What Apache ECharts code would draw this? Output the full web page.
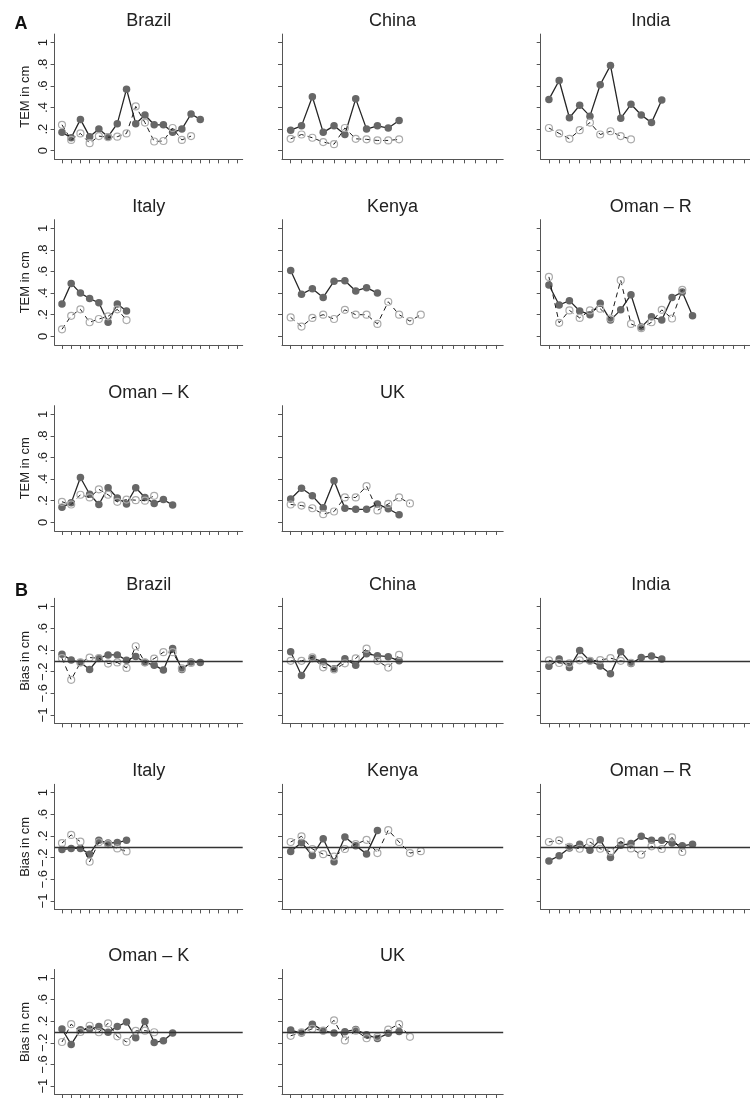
<!DOCTYPE html>
<html><head><meta charset="utf-8">
<script src="https://cdn.jsdelivr.net/npm/echarts@6/dist/echarts.min.js"></script>
<style>html,body{margin:0;padding:0;background:#fff}#c{width:750px;height:1098px}</style>
</head><body><div id="c"></div>
<script>
// ---------- DATA ----------
const countries = ["Brazil", "China", "India", "Italy", "Kenya", "Oman \u2013 R", "Oman \u2013 K", "UK"];
const xTicks = [1,2,3,4,5,6,7,8,9,10,11,12,13,14,15,16,17,18,19,20];
const temTicks = [0, 0.2, 0.4, 0.6, 0.8, 1];
const biasTicks = [-1, -0.6, -0.2, 0.2, 0.6, 1];

// Panel A: TEM in cm  (solid = filled markers, dashed = hollow markers)
const temSolid_Brazil = [0.17, 0.12, 0.29, 0.13, 0.20, 0.13, 0.25, 0.57, 0.25, 0.33, 0.24, 0.24, 0.17, 0.20, 0.34, 0.29];
const temDash_Brazil  = [0.24, 0.10, 0.16, 0.07, 0.135, 0.125, 0.13, 0.16, 0.41, 0.26, 0.085, 0.09, 0.21, 0.10, 0.135];
const temSolid_China  = [0.19, 0.23, 0.50, 0.17, 0.23, 0.15, 0.48, 0.20, 0.23, 0.21, 0.28];
const temDash_China   = [0.11, 0.15, 0.12, 0.08, 0.06, 0.21, 0.11, 0.105, 0.095, 0.095, 0.105];
const temSolid_India  = [0.475, 0.65, 0.305, 0.42, 0.32, 0.61, 0.79, 0.30, 0.43, 0.33, 0.26, 0.47];
const temDash_India   = [0.21, 0.16, 0.11, 0.19, 0.26, 0.15, 0.18, 0.135, 0.105];
const temSolid_Italy  = [0.30, 0.49, 0.40, 0.35, 0.31, 0.13, 0.30, 0.235];
const temDash_Italy   = [0.065, 0.19, 0.25, 0.13, 0.16, 0.185, 0.25, 0.15];
const temSolid_Kenya  = [0.61, 0.39, 0.44, 0.36, 0.51, 0.515, 0.42, 0.45, 0.40];
const temDash_Kenya   = [0.175, 0.09, 0.17, 0.20, 0.16, 0.245, 0.20, 0.20, 0.115, 0.32, 0.20, 0.14, 0.20];
const temSolid_OmanR  = [0.475, 0.29, 0.33, 0.235, 0.20, 0.305, 0.15, 0.245, 0.385, 0.085, 0.18, 0.15, 0.36, 0.41, 0.19];
const temDash_OmanR   = [0.55, 0.125, 0.24, 0.17, 0.24, 0.255, 0.165, 0.52, 0.115, 0.075, 0.13, 0.245, 0.165, 0.43];
const temSolid_OmanK  = [0.14, 0.18, 0.415, 0.26, 0.165, 0.32, 0.225, 0.17, 0.32, 0.23, 0.175, 0.21, 0.16];
const temDash_OmanK   = [0.19, 0.165, 0.255, 0.23, 0.305, 0.255, 0.19, 0.21, 0.205, 0.20, 0.245];
const temSolid_UK     = [0.215, 0.315, 0.245, 0.135, 0.385, 0.13, 0.12, 0.12, 0.17, 0.125, 0.07];
const temDash_UK      = [0.165, 0.155, 0.13, 0.075, 0.10, 0.23, 0.23, 0.335, 0.11, 0.17, 0.23, 0.175];

// Panel B: Bias in cm
const biasSolid_Brazil = [0.12, 0.015, -0.03, -0.16, 0.05, 0.11, 0.11, 0.01, 0.08, -0.03, -0.08, -0.17, 0.23, -0.16, -0.02, -0.03];
const biasDash_Brazil  = [0.05, -0.35, -0.03, 0.06, 0.05, -0.05, -0.03, -0.13, 0.27, -0.03, 0.04, 0.16, 0.16, -0.14, -0.04];
const biasSolid_China  = [0.17, -0.27, 0.045, -0.015, -0.145, 0.04, -0.08, 0.13, 0.095, 0.077, 0.0];
const biasDash_China   = [0.0, 0.0, 0.065, -0.12, -0.16, -0.045, 0.045, 0.225, 0.0, -0.125, 0.11];
const biasSolid_India  = [-0.10, 0.035, -0.125, 0.19, 0.0, -0.095, -0.24, 0.17, -0.05, 0.06, 0.09, 0.035];
const biasDash_India   = [0.01, -0.04, -0.045, 0.01, 0.0, 0.015, 0.05, 0.0, -0.035];
const biasSolid_Italy  = [-0.05, -0.03, -0.03, -0.135, 0.12, 0.07, 0.08, 0.12];
const biasDash_Italy   = [0.07, 0.22, 0.095, -0.275, 0.085, 0.05, -0.03, -0.085];
const biasSolid_Kenya  = [-0.085, 0.08, -0.16, 0.15, -0.275, 0.18, 0.02, -0.13, 0.30];
const biasDash_Kenya   = [0.09, 0.195, -0.04, -0.135, -0.18, -0.04, 0.05, 0.13, -0.115, 0.31, 0.09, -0.115, -0.08];
const biasSolid_OmanR  = [-0.26, -0.165, -0.02, 0.05, -0.065, 0.13, -0.195, 0.03, 0.06, 0.195, 0.12, 0.12, 0.07, 0.02, 0.05];
const biasDash_OmanR   = [0.09, 0.12, 0.0, -0.035, 0.09, -0.035, -0.09, 0.10, -0.03, -0.145, 0.01, -0.04, 0.175, -0.095];
const biasSolid_OmanK  = [0.055, -0.23, 0.04, 0.055, 0.10, -0.005, 0.10, 0.185, -0.105, 0.195, -0.195, -0.16, -0.02];
const biasDash_OmanK   = [-0.185, 0.145, 0.0, 0.115, -0.005, 0.16, -0.08, -0.185, 0.02, 0.025, -0.005];
const biasSolid_UK     = [0.035, -0.02, 0.145, 0.025, -0.02, 0.005, 0.045, -0.05, -0.12, -0.025, 0.01];
const biasDash_UK      = [-0.07, -0.005, 0.06, 0.025, 0.215, -0.155, 0.025, -0.115, -0.09, 0.045, 0.145, -0.09];

const temSolid = [temSolid_Brazil, temSolid_China, temSolid_India, temSolid_Italy, temSolid_Kenya, temSolid_OmanR, temSolid_OmanK, temSolid_UK];
const temDash  = [temDash_Brazil, temDash_China, temDash_India, temDash_Italy, temDash_Kenya, temDash_OmanR, temDash_OmanK, temDash_UK];
const biasSolid = [biasSolid_Brazil, biasSolid_China, biasSolid_India, biasSolid_Italy, biasSolid_Kenya, biasSolid_OmanR, biasSolid_OmanK, biasSolid_UK];
const biasDash  = [biasDash_Brazil, biasDash_China, biasDash_India, biasDash_Italy, biasDash_Kenya, biasDash_OmanR, biasDash_OmanK, biasDash_UK];

// ---------- LAYOUT ----------
const FONT = "Liberation Sans, Arial, Helvetica, sans-serif";
const colLeft = [54.6, 282.0, 540.7];
const colWidth = [188.1, 221.2, 219.9];
const temZero = [150.7, 336.3, 522.3];
const biasZero = [660.85, 846.85, 1032];
const XMIN = 0.2, XMAX = 20.6;
const TEM_MIN = -0.08, TEM_MAX = 1.08, TEM_PX = 108;
const BIAS_MIN = -1.155, BIAS_MAX = 1.155, BIAS_PX = 54.15;
const AX = '#555';

function fmt(v) {
  if (Math.abs(v) < 1e-9) return '0';
  let s = String(Math.round(Math.abs(v) * 10) / 10);
  if (s.startsWith('0')) s = s.slice(1);
  return (v < 0 ? '\u2212' : '') + s;
}

const grids = [], xAxes = [], yAxes = [], series = [], graphics = [];

function addPanel(k, ci, isBias) {
  const row = Math.floor(ci / 3), col = ci % 3;
  const zero = isBias ? biasZero[row] : temZero[row];
  const ymin = isBias ? BIAS_MIN : TEM_MIN, ymax = isBias ? BIAS_MAX : TEM_MAX;
  const px = isBias ? BIAS_PX : TEM_PX;
  const top = zero - ymax * px, height = (ymax - ymin) * px;
  grids.push({left: colLeft[col], top: top, width: colWidth[col], height: height, containLabel: false});
  xAxes.push({
    gridIndex: k, type: 'value', min: XMIN, max: XMAX,
    axisLine: {show: true, onZero: false, lineStyle: {color: AX, width: 1}},
    axisTick: {show: true, customValues: xTicks, length: 4, lineStyle: {color: AX, width: 1}},
    axisLabel: {show: false}, splitLine: {show: false}
  });
  const ticks = isBias ? biasTicks : temTicks;
  yAxes.push({
    gridIndex: k, type: 'value', min: ymin, max: ymax,
    axisLine: {show: true, onZero: false, lineStyle: {color: AX, width: 1}},
    axisTick: {show: true, customValues: ticks, length: 4, lineStyle: {color: AX, width: 1}},
    axisLabel: {show: col === 0, customValues: ticks, rotate: 90, margin: 5, fontSize: 13, color: '#222', fontFamily: FONT, formatter: fmt},
    splitLine: {show: false},
    name: col === 0 ? (isBias ? 'Bias in cm' : 'TEM in cm') : '',
    nameLocation: 'middle', nameGap: 23,
    nameTextStyle: {fontSize: 13, color: '#222', fontFamily: FONT}
  });
  const solid = isBias ? biasSolid[ci] : temSolid[ci];
  const dash = isBias ? biasDash[ci] : temDash[ci];
  const s1 = {
    type: 'line', xAxisIndex: k, yAxisIndex: k,
    data: solid.map((v, i) => [xTicks[i], v]),
    symbol: 'circle', symbolSize: 7.5, showAllSymbol: true,
    itemStyle: {color: '#676767', borderWidth: 0},
    lineStyle: {color: '#262626', width: 1.3},
    silent: true, animation: false, z: 3
  };
  if (isBias) {
    s1.markLine = {
      silent: true, symbol: ['none', 'none'], label: {show: false}, animation: false,
      lineStyle: {type: 'solid', color: '#333', width: 1.3},
      data: [{yAxis: 0}]
    };
  }
  series.push(s1);
  series.push({
    type: 'line', xAxisIndex: k, yAxisIndex: k,
    data: dash.map((v, i) => [xTicks[i], v]),
    symbol: 'circle', symbolSize: 7, showAllSymbol: true,
    itemStyle: {color: 'rgba(255,255,255,0)', borderColor: '#ababab', borderWidth: 1.2},
    lineStyle: {color: '#1a1a1a', width: 1, type: [5, 4]},
    silent: true, animation: false, z: 4
  });
  graphics.push({
    type: 'text', x: colLeft[col] + colWidth[col] / 2, y: top - 13,
    style: {text: countries[ci], font: '18px ' + FONT, fill: '#222', textAlign: 'center', textVerticalAlign: 'middle'}
  });
}

let k = 0;
for (let ci = 0; ci < 8; ci++) addPanel(k++, ci, false);
for (let ci = 0; ci < 8; ci++) addPanel(k++, ci, true);

graphics.push({type: 'text', x: 21, y: 24, style: {text: 'A', font: 'bold 18px ' + FONT, fill: '#111', textAlign: 'center', textVerticalAlign: 'middle'}});
graphics.push({type: 'text', x: 21.5, y: 591.5, style: {text: 'B', font: 'bold 18px ' + FONT, fill: '#111', textAlign: 'center', textVerticalAlign: 'middle'}});

const chart = echarts.init(document.getElementById('c'), null, {renderer: 'canvas'});
chart.setOption({
  animation: false,
  backgroundColor: '#fff',
  textStyle: {fontFamily: FONT},
  grid: grids, xAxis: xAxes, yAxis: yAxes, series: series, graphic: graphics
});
</script></body></html>
